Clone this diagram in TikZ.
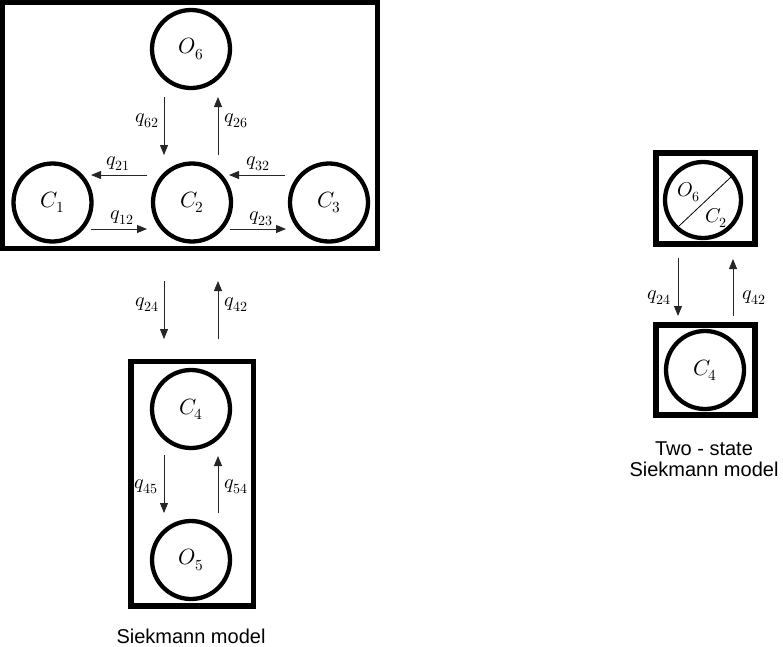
\documentclass[tikz,border=0pt]{standalone}
\usepackage{fontspec}
\usepackage{unicode-math}
\setmathfont{Latin Modern Math}
\newfontfamily\capfont{Liberation Sans}
\usetikzlibrary{arrows.meta}
\begin{document}
\begin{tikzpicture}[x=1pt,y=-1pt,
  frame/.style={draw=black,line width=5.5pt,inner sep=0pt},
  state/.style={circle,draw=black,line width=4.3pt,minimum size=78pt,inner sep=0pt,font=\fontsize{22}{26}\selectfont},
  rate/.style={-{Triangle[length=10pt,width=8pt]},line width=0.9pt,draw=black!85,fill=black},
  rlab/.style={font=\fontsize{20}{24}\selectfont,inner sep=0pt},
  slab/.style={font=\fontsize{20}{24}\selectfont,inner sep=0pt},
  caption/.style={font=\capfont\fontsize{20}{21}\selectfont,align=center,inner sep=0pt}]
\useasboundingbox (0,0) rectangle (783,646);

% frames
\node[frame,minimum width=375pt,minimum height=246pt] (bigframe) at (190,125.5) {};
\node[frame,minimum width=122.5pt,minimum height=244.5pt] (lowframe) at (192,483.5) {};
\node[frame,minimum width=99pt,minimum height=91pt] (rframeA) at (705.5,198.5) {};
\node[frame,minimum width=99pt,minimum height=90pt] (rframeB) at (705.5,370) {};

% states (Siekmann model)
\node[state] (O6) at (191,49) {$O_6$};
\node[state] (C1) at (52.5,202.5) {$C_1$};
\node[state] (C2) at (192,202.5) {$C_2$};
\node[state] (C3) at (329,202.5) {$C_3$};
\node[state] (C4) at (191,409) {$C_4$};
\node[state] (O5) at (191,560) {$O_5$};

% states (two-state model)
\node[state,minimum size=76pt] (O6C2) at (703,200) {};
\node[state] (C4r) at (705,370) {$C_4$};
\coordinate (dA) at (679,226);
\coordinate (dB) at (731,177);
\draw[line width=0.8pt] (dA) -- (dB);
\node[slab] (lO6) at (689,192) {$O_6$};
\node[slab] (lC2) at (716,218) {$C_2$};

% arrow end points
\coordinate (a62s) at (164,97);   \coordinate (a62e) at (164,155);
\coordinate (a26s) at (218,155);  \coordinate (a26e) at (218,97);
\coordinate (a21s) at (147,175);  \coordinate (a21e) at (91,175);
\coordinate (a12s) at (91,229);   \coordinate (a12e) at (147,229);
\coordinate (a32s) at (285,175);  \coordinate (a32e) at (229,175);
\coordinate (a23s) at (230,229);  \coordinate (a23e) at (286,229);
\coordinate (a24s) at (164,281);  \coordinate (a24e) at (164,339);
\coordinate (a42s) at (218,339);  \coordinate (a42e) at (218,281);
\coordinate (a45s) at (164,455);  \coordinate (a45e) at (164,513);
\coordinate (a54s) at (218,513);  \coordinate (a54e) at (218,456);
\coordinate (b24s) at (678,258);  \coordinate (b24e) at (678,316);
\coordinate (b42s) at (733,316);  \coordinate (b42e) at (733,259);

\draw[rate] (a62s) -- (a62e);
\draw[rate] (a26s) -- (a26e);
\draw[rate] (a21s) -- (a21e);
\draw[rate] (a12s) -- (a12e);
\draw[rate] (a32s) -- (a32e);
\draw[rate] (a23s) -- (a23e);
\draw[rate] (a24s) -- (a24e);
\draw[rate] (a42s) -- (a42e);
\draw[rate] (a45s) -- (a45e);
\draw[rate] (a54s) -- (a54e);
\draw[rate] (b24s) -- (b24e);
\draw[rate] (b42s) -- (b42e);

% rate labels
\node[rlab] (l62) at (147,121) {$q_{62}$};
\node[rlab] (l26) at (236,121) {$q_{26}$};
\node[rlab] (l21) at (118,164) {$q_{21}$};
\node[rlab] (l12) at (122,218) {$q_{12}$};
\node[rlab] (l32) at (258,164) {$q_{32}$};
\node[rlab] (l23) at (261,219) {$q_{23}$};
\node[rlab] (l24) at (147,305) {$q_{24}$};
\node[rlab] (l42) at (236,305) {$q_{42}$};
\node[rlab] (l45) at (146,487) {$q_{45}$};
\node[rlab] (l54) at (236,487) {$q_{54}$};
\node[rlab] (m24) at (659,298) {$q_{24}$};
\node[rlab] (m42) at (754,298) {$q_{42}$};

% captions
\node[caption,anchor=base] (cap1) at (191,643) {Siekmann model};
\node[caption,anchor=base] (cap2) at (704,476) {Two - state\\Siekmann model};
\end{tikzpicture}
\end{document}
